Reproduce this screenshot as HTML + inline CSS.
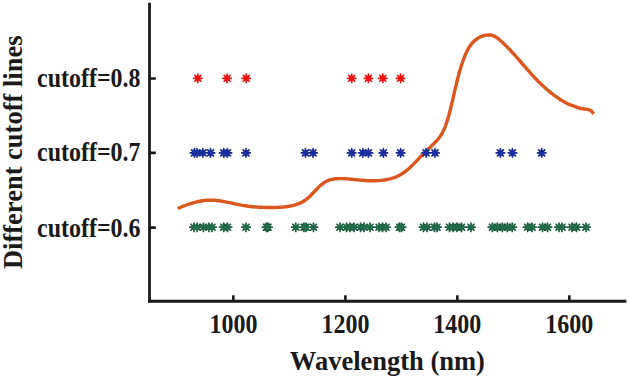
<!DOCTYPE html>
<html><head><meta charset="utf-8"><style>
html,body{margin:0;padding:0;background:#fff;}
svg{display:block;}
text{font-family:"Liberation Serif",serif;font-weight:bold;fill:#1a1a1a;}
</style></head><body>
<svg width="629" height="377" viewBox="0 0 629 377">
<rect width="629" height="377" fill="#fff"/>
<path d="M177.7,208.5 L178.9,208.0 L180.2,207.5 L181.4,206.9 L182.7,206.4 L184.0,205.9 L185.2,205.5 L186.5,205.0 L187.8,204.5 L189.1,204.1 L190.4,203.7 L191.7,203.3 L193.1,202.9 L194.4,202.5 L195.7,202.2 L197.0,201.8 L198.4,201.5 L199.7,201.3 L201.0,201.0 L202.4,200.8 L203.7,200.6 L205.1,200.5 L206.4,200.3 L207.8,200.3 L209.1,200.2 L210.5,200.2 L211.8,200.2 L213.2,200.2 L214.5,200.3 L215.9,200.4 L217.2,200.6 L218.6,200.7 L219.9,200.9 L221.2,201.1 L222.6,201.3 L223.9,201.6 L225.3,201.8 L226.6,202.1 L228.0,202.4 L229.3,202.6 L230.7,202.9 L232.0,203.2 L233.4,203.5 L234.7,203.8 L236.0,204.1 L237.4,204.4 L238.7,204.6 L240.1,204.9 L241.4,205.1 L242.7,205.4 L244.1,205.6 L245.4,205.8 L246.8,206.0 L248.1,206.2 L249.4,206.4 L250.8,206.5 L252.1,206.7 L253.4,206.8 L254.8,206.9 L256.1,207.0 L257.5,207.1 L258.8,207.2 L260.2,207.3 L261.5,207.3 L262.9,207.4 L264.2,207.4 L265.6,207.5 L266.9,207.5 L268.3,207.5 L269.7,207.5 L271.1,207.5 L272.4,207.5 L273.8,207.5 L275.2,207.5 L276.6,207.4 L278.0,207.4 L279.4,207.3 L280.7,207.2 L282.1,207.1 L283.5,207.0 L284.9,206.9 L286.2,206.7 L287.6,206.5 L289.0,206.3 L290.3,206.0 L291.6,205.8 L292.9,205.5 L294.2,205.1 L295.5,204.8 L296.8,204.3 L298.0,203.9 L299.3,203.4 L300.5,202.9 L301.6,202.3 L302.8,201.7 L303.9,201.0 L305.0,200.3 L306.1,199.5 L307.2,198.7 L308.2,197.8 L309.2,196.9 L310.2,196.0 L311.2,195.0 L312.1,194.0 L313.1,193.0 L314.0,192.0 L315.0,191.0 L315.9,190.0 L316.9,189.0 L317.8,188.0 L318.8,187.1 L319.8,186.1 L320.8,185.2 L321.8,184.4 L322.9,183.6 L323.9,182.8 L325.0,182.1 L326.2,181.4 L327.4,180.9 L328.6,180.4 L329.8,179.9 L331.1,179.6 L332.4,179.3 L333.8,179.0 L335.2,178.8 L336.6,178.7 L338.0,178.6 L339.4,178.6 L340.8,178.6 L342.3,178.6 L343.7,178.6 L345.1,178.7 L346.6,178.8 L348.0,178.9 L349.4,179.1 L350.8,179.2 L352.2,179.3 L353.5,179.5 L354.9,179.6 L356.2,179.7 L357.5,179.9 L358.8,180.0 L360.2,180.1 L361.5,180.2 L362.8,180.3 L364.1,180.4 L365.4,180.5 L366.8,180.6 L368.1,180.7 L369.4,180.7 L370.8,180.7 L372.2,180.8 L373.5,180.8 L374.9,180.7 L376.3,180.7 L377.6,180.6 L379.0,180.6 L380.4,180.4 L381.7,180.3 L383.1,180.1 L384.5,180.0 L385.8,179.7 L387.1,179.5 L388.5,179.2 L389.8,178.9 L391.1,178.6 L392.4,178.2 L393.7,177.8 L394.9,177.3 L396.2,176.8 L397.4,176.3 L398.6,175.7 L399.8,175.1 L400.9,174.5 L402.0,173.8 L403.2,173.0 L404.3,172.3 L405.3,171.5 L406.4,170.6 L407.5,169.8 L408.5,168.9 L409.5,168.0 L410.5,167.0 L411.5,166.1 L412.5,165.1 L413.5,164.1 L414.5,163.1 L415.4,162.1 L416.4,161.1 L417.3,160.1 L418.3,159.1 L419.3,158.1 L420.2,157.0 L421.2,156.0 L422.1,155.0 L423.1,154.0 L424.1,153.0 L425.1,152.1 L426.0,151.1 L427.0,150.2 L428.0,149.2 L429.0,148.3 L430.0,147.4 L431.0,146.5 L431.9,145.5 L432.9,144.6 L433.8,143.7 L434.8,142.7 L435.7,141.7 L436.6,140.8 L437.5,139.8 L438.3,138.8 L439.1,137.7 L439.9,136.7 L440.7,135.6 L441.4,134.5 L442.1,133.3 L442.7,132.1 L443.3,130.9 L443.9,129.7 L444.5,128.4 L445.0,127.2 L445.5,125.9 L446.0,124.5 L446.4,123.2 L446.9,121.9 L447.3,120.5 L447.7,119.2 L448.1,117.8 L448.5,116.5 L448.9,115.2 L449.2,113.8 L449.6,112.5 L449.9,111.2 L450.3,109.8 L450.6,108.5 L450.9,107.2 L451.3,105.8 L451.6,104.5 L451.9,103.2 L452.2,101.9 L452.5,100.6 L452.8,99.3 L453.1,97.9 L453.4,96.6 L453.7,95.3 L454.0,94.0 L454.3,92.7 L454.6,91.4 L454.9,90.1 L455.2,88.8 L455.5,87.5 L455.9,86.2 L456.2,84.9 L456.5,83.5 L456.8,82.2 L457.1,80.9 L457.4,79.6 L457.8,78.3 L458.1,77.0 L458.5,75.7 L458.8,74.4 L459.2,73.1 L459.5,71.8 L459.9,70.5 L460.3,69.2 L460.7,67.9 L461.1,66.6 L461.5,65.3 L461.9,64.0 L462.4,62.6 L462.8,61.3 L463.3,60.0 L463.8,58.7 L464.3,57.4 L464.8,56.1 L465.3,54.8 L465.9,53.5 L466.5,52.3 L467.1,51.0 L467.7,49.8 L468.4,48.6 L469.0,47.5 L469.8,46.3 L470.5,45.2 L471.3,44.2 L472.2,43.2 L473.1,42.2 L474.0,41.3 L474.9,40.4 L476.0,39.6 L477.0,38.8 L478.1,38.1 L479.3,37.4 L480.5,36.8 L481.8,36.3 L483.1,35.9 L484.5,35.5 L485.9,35.2 L487.3,35.1 L488.8,35.0 L490.2,35.0 L491.5,35.2 L492.8,35.6 L494.1,36.1 L495.3,36.7 L496.4,37.4 L497.5,38.2 L498.6,39.0 L499.6,39.9 L500.6,40.8 L501.6,41.7 L502.6,42.6 L503.6,43.5 L504.6,44.5 L505.6,45.4 L506.6,46.4 L507.5,47.3 L508.5,48.3 L509.4,49.3 L510.4,50.3 L511.3,51.3 L512.2,52.3 L513.1,53.3 L514.0,54.3 L515.0,55.3 L515.9,56.3 L516.8,57.3 L517.7,58.3 L518.6,59.4 L519.5,60.4 L520.3,61.4 L521.2,62.5 L522.1,63.5 L523.0,64.5 L523.9,65.6 L524.8,66.6 L525.7,67.6 L526.6,68.6 L527.5,69.7 L528.4,70.7 L529.3,71.7 L530.2,72.7 L531.1,73.7 L532.0,74.8 L532.9,75.8 L533.9,76.8 L534.8,77.8 L535.7,78.7 L536.7,79.7 L537.6,80.7 L538.6,81.7 L539.6,82.6 L540.5,83.6 L541.5,84.5 L542.5,85.4 L543.5,86.4 L544.5,87.3 L545.5,88.2 L546.5,89.1 L547.5,90.0 L548.6,90.9 L549.6,91.7 L550.7,92.6 L551.7,93.4 L552.8,94.2 L553.9,95.1 L555.0,95.9 L556.1,96.7 L557.2,97.4 L558.3,98.2 L559.4,99.0 L560.6,99.7 L561.7,100.4 L562.9,101.1 L564.1,101.8 L565.3,102.5 L566.5,103.1 L567.7,103.8 L568.9,104.4 L569.3,104.5 L569.9,104.7 L570.5,104.9 L571.2,105.1 L572.0,105.4 L572.7,105.6 L573.4,105.9 L574.0,106.1 L574.6,106.3 L575.1,106.5 L575.6,106.7 L576.1,106.9 L576.6,107.2 L577.0,107.3 L577.5,107.5 L578.0,107.7 L578.5,107.9 L579.0,108.0 L579.5,108.1 L580.0,108.3 L580.4,108.4 L580.9,108.5 L581.4,108.6 L581.9,108.7 L582.4,108.8 L582.9,108.9 L583.4,108.9 L583.9,109.0 L584.4,109.0 L584.9,109.1 L585.4,109.1 L585.9,109.2 L586.4,109.3 L586.9,109.4 L587.5,109.5 L588.0,109.6 L588.5,109.7 L589.0,109.8 L589.5,110.0 L589.9,110.1 L590.2,110.3 L590.5,110.4 L590.8,110.6 L591.0,110.8 L591.2,111.0 L591.4,111.3 L591.7,111.5 L591.9,111.7 L592.2,111.9 L592.4,112.2 L592.7,112.5 L593.0,112.8 L593.3,113.1 L593.5,113.3 L593.7,113.5 L593.9,113.7" fill="none" stroke="#db571e" stroke-width="3.4" stroke-linejoin="round"/>
<path d="M193.60,78.30L202.00,78.30M194.83,75.33L200.77,81.27M197.80,74.10L197.80,82.50M200.77,75.33L194.83,81.27M222.90,78.30L231.30,78.30M224.13,75.33L230.07,81.27M227.10,74.10L227.10,82.50M230.07,75.33L224.13,81.27M242.00,78.30L250.40,78.30M243.23,75.33L249.17,81.27M246.20,74.10L246.20,82.50M249.17,75.33L243.23,81.27M347.50,78.30L355.90,78.30M348.73,75.33L354.67,81.27M351.70,74.10L351.70,82.50M354.67,75.33L348.73,81.27M364.20,78.30L372.60,78.30M365.43,75.33L371.37,81.27M368.40,74.10L368.40,82.50M371.37,75.33L365.43,81.27M378.60,78.30L387.00,78.30M379.83,75.33L385.77,81.27M382.80,74.10L382.80,82.50M385.77,75.33L379.83,81.27M396.40,78.30L404.80,78.30M397.63,75.33L403.57,81.27M400.60,74.10L400.60,82.50M403.57,75.33L397.63,81.27" stroke="#e01515" stroke-width="1.7" stroke-linecap="round"/><circle cx="197.80" cy="78.30" r="2.8" fill="#f51010"/><circle cx="227.10" cy="78.30" r="2.8" fill="#f51010"/><circle cx="246.20" cy="78.30" r="2.8" fill="#f51010"/><circle cx="351.70" cy="78.30" r="2.8" fill="#f51010"/><circle cx="368.40" cy="78.30" r="2.8" fill="#f51010"/><circle cx="382.80" cy="78.30" r="2.8" fill="#f51010"/><circle cx="400.60" cy="78.30" r="2.8" fill="#f51010"/>
<path d="M190.30,152.90L198.70,152.90M191.53,149.93L197.47,155.87M194.50,148.70L194.50,157.10M197.47,149.93L191.53,155.87M192.80,152.90L201.20,152.90M194.03,149.93L199.97,155.87M197.00,148.70L197.00,157.10M199.97,149.93L194.03,155.87M198.60,152.90L207.00,152.90M199.83,149.93L205.77,155.87M202.80,148.70L202.80,157.10M205.77,149.93L199.83,155.87M206.30,152.90L214.70,152.90M207.53,149.93L213.47,155.87M210.50,148.70L210.50,157.10M213.47,149.93L207.53,155.87M219.50,152.90L227.90,152.90M220.73,149.93L226.67,155.87M223.70,148.70L223.70,157.10M226.67,149.93L220.73,155.87M223.30,152.90L231.70,152.90M224.53,149.93L230.47,155.87M227.50,148.70L227.50,157.10M230.47,149.93L224.53,155.87M241.80,152.90L250.20,152.90M243.03,149.93L248.97,155.87M246.00,148.70L246.00,157.10M248.97,149.93L243.03,155.87M301.30,152.90L309.70,152.90M302.53,149.93L308.47,155.87M305.50,148.70L305.50,157.10M308.47,149.93L302.53,155.87M308.80,152.90L317.20,152.90M310.03,149.93L315.97,155.87M313.00,148.70L313.00,157.10M315.97,149.93L310.03,155.87M347.50,152.90L355.90,152.90M348.73,149.93L354.67,155.87M351.70,148.70L351.70,157.10M354.67,149.93L348.73,155.87M358.60,152.90L367.00,152.90M359.83,149.93L365.77,155.87M362.80,148.70L362.80,157.10M365.77,149.93L359.83,155.87M364.20,152.90L372.60,152.90M365.43,149.93L371.37,155.87M368.40,148.70L368.40,157.10M371.37,149.93L365.43,155.87M379.20,152.90L387.60,152.90M380.43,149.93L386.37,155.87M383.40,148.70L383.40,157.10M386.37,149.93L380.43,155.87M396.40,152.90L404.80,152.90M397.63,149.93L403.57,155.87M400.60,148.70L400.60,157.10M403.57,149.93L397.63,155.87M421.90,152.90L430.30,152.90M423.13,149.93L429.07,155.87M426.10,148.70L426.10,157.10M429.07,149.93L423.13,155.87M430.80,152.90L439.20,152.90M432.03,149.93L437.97,155.87M435.00,148.70L435.00,157.10M437.97,149.93L432.03,155.87M496.20,152.90L504.60,152.90M497.43,149.93L503.37,155.87M500.40,148.70L500.40,157.10M503.37,149.93L497.43,155.87M508.20,152.90L516.60,152.90M509.43,149.93L515.37,155.87M512.40,148.70L512.40,157.10M515.37,149.93L509.43,155.87M537.50,152.90L545.90,152.90M538.73,149.93L544.67,155.87M541.70,148.70L541.70,157.10M544.67,149.93L538.73,155.87" stroke="#152788" stroke-width="1.7" stroke-linecap="round"/><circle cx="194.50" cy="152.90" r="2.8" fill="#1a2ea0"/><circle cx="197.00" cy="152.90" r="2.8" fill="#1a2ea0"/><circle cx="202.80" cy="152.90" r="2.8" fill="#1a2ea0"/><circle cx="210.50" cy="152.90" r="2.8" fill="#1a2ea0"/><circle cx="223.70" cy="152.90" r="2.8" fill="#1a2ea0"/><circle cx="227.50" cy="152.90" r="2.8" fill="#1a2ea0"/><circle cx="246.00" cy="152.90" r="2.8" fill="#1a2ea0"/><circle cx="305.50" cy="152.90" r="2.8" fill="#1a2ea0"/><circle cx="313.00" cy="152.90" r="2.8" fill="#1a2ea0"/><circle cx="351.70" cy="152.90" r="2.8" fill="#1a2ea0"/><circle cx="362.80" cy="152.90" r="2.8" fill="#1a2ea0"/><circle cx="368.40" cy="152.90" r="2.8" fill="#1a2ea0"/><circle cx="383.40" cy="152.90" r="2.8" fill="#1a2ea0"/><circle cx="400.60" cy="152.90" r="2.8" fill="#1a2ea0"/><circle cx="426.10" cy="152.90" r="2.8" fill="#1a2ea0"/><circle cx="435.00" cy="152.90" r="2.8" fill="#1a2ea0"/><circle cx="500.40" cy="152.90" r="2.8" fill="#1a2ea0"/><circle cx="512.40" cy="152.90" r="2.8" fill="#1a2ea0"/><circle cx="541.70" cy="152.90" r="2.8" fill="#1a2ea0"/>
<path d="M189.80,227.20L198.20,227.20M191.03,224.23L196.97,230.17M194.00,223.00L194.00,231.40M196.97,224.23L191.03,230.17M192.80,227.20L201.20,227.20M194.03,224.23L199.97,230.17M197.00,223.00L197.00,231.40M199.97,224.23L194.03,230.17M199.20,227.20L207.60,227.20M200.43,224.23L206.37,230.17M203.40,223.00L203.40,231.40M206.37,224.23L200.43,230.17M204.80,227.20L213.20,227.20M206.03,224.23L211.97,230.17M209.00,223.00L209.00,231.40M211.97,224.23L206.03,230.17M207.80,227.20L216.20,227.20M209.03,224.23L214.97,230.17M212.00,223.00L212.00,231.40M214.97,224.23L209.03,230.17M219.50,227.20L227.90,227.20M220.73,224.23L226.67,230.17M223.70,223.00L223.70,231.40M226.67,224.23L220.73,230.17M223.30,227.20L231.70,227.20M224.53,224.23L230.47,230.17M227.50,223.00L227.50,231.40M230.47,224.23L224.53,230.17M241.80,227.20L250.20,227.20M243.03,224.23L248.97,230.17M246.00,223.00L246.00,231.40M248.97,224.23L243.03,230.17M262.30,227.20L270.70,227.20M263.53,224.23L269.47,230.17M266.50,223.00L266.50,231.40M269.47,224.23L263.53,230.17M263.80,227.20L272.20,227.20M265.03,224.23L270.97,230.17M268.00,223.00L268.00,231.40M270.97,224.23L265.03,230.17M291.60,227.20L300.00,227.20M292.83,224.23L298.77,230.17M295.80,223.00L295.80,231.40M298.77,224.23L292.83,230.17M299.80,227.20L308.20,227.20M301.03,224.23L306.97,230.17M304.00,223.00L304.00,231.40M306.97,224.23L301.03,230.17M301.80,227.20L310.20,227.20M303.03,224.23L308.97,230.17M306.00,223.00L306.00,231.40M308.97,224.23L303.03,230.17M309.30,227.20L317.70,227.20M310.53,224.23L316.47,230.17M313.50,223.00L313.50,231.40M316.47,224.23L310.53,230.17M335.80,227.20L344.20,227.20M337.03,224.23L342.97,230.17M340.00,223.00L340.00,231.40M342.97,224.23L337.03,230.17M342.30,227.20L350.70,227.20M343.53,224.23L349.47,230.17M346.50,223.00L346.50,231.40M349.47,224.23L343.53,230.17M345.80,227.20L354.20,227.20M347.03,224.23L352.97,230.17M350.00,223.00L350.00,231.40M352.97,224.23L347.03,230.17M349.80,227.20L358.20,227.20M351.03,224.23L356.97,230.17M354.00,223.00L354.00,231.40M356.97,224.23L351.03,230.17M356.30,227.20L364.70,227.20M357.53,224.23L363.47,230.17M360.50,223.00L360.50,231.40M363.47,224.23L357.53,230.17M359.80,227.20L368.20,227.20M361.03,224.23L366.97,230.17M364.00,223.00L364.00,231.40M366.97,224.23L361.03,230.17M365.80,227.20L374.20,227.20M367.03,224.23L372.97,230.17M370.00,223.00L370.00,231.40M372.97,224.23L367.03,230.17M374.80,227.20L383.20,227.20M376.03,224.23L381.97,230.17M379.00,223.00L379.00,231.40M381.97,224.23L376.03,230.17M378.30,227.20L386.70,227.20M379.53,224.23L385.47,230.17M382.50,223.00L382.50,231.40M385.47,224.23L379.53,230.17M381.80,227.20L390.20,227.20M383.03,224.23L388.97,230.17M386.00,223.00L386.00,231.40M388.97,224.23L383.03,230.17M395.30,227.20L403.70,227.20M396.53,224.23L402.47,230.17M399.50,223.00L399.50,231.40M402.47,224.23L396.53,230.17M397.30,227.20L405.70,227.20M398.53,224.23L404.47,230.17M401.50,223.00L401.50,231.40M404.47,224.23L398.53,230.17M419.30,227.20L427.70,227.20M420.53,224.23L426.47,230.17M423.50,223.00L423.50,231.40M426.47,224.23L420.53,230.17M422.80,227.20L431.20,227.20M424.03,224.23L429.97,230.17M427.00,223.00L427.00,231.40M429.97,224.23L424.03,230.17M430.30,227.20L438.70,227.20M431.53,224.23L437.47,230.17M434.50,223.00L434.50,231.40M437.47,224.23L431.53,230.17M432.80,227.20L441.20,227.20M434.03,224.23L439.97,230.17M437.00,223.00L437.00,231.40M439.97,224.23L434.03,230.17M445.30,227.20L453.70,227.20M446.53,224.23L452.47,230.17M449.50,223.00L449.50,231.40M452.47,224.23L446.53,230.17M448.80,227.20L457.20,227.20M450.03,224.23L455.97,230.17M453.00,223.00L453.00,231.40M455.97,224.23L450.03,230.17M452.80,227.20L461.20,227.20M454.03,224.23L459.97,230.17M457.00,223.00L457.00,231.40M459.97,224.23L454.03,230.17M457.30,227.20L465.70,227.20M458.53,224.23L464.47,230.17M461.50,223.00L461.50,231.40M464.47,224.23L458.53,230.17M466.80,227.20L475.20,227.20M468.03,224.23L473.97,230.17M471.00,223.00L471.00,231.40M473.97,224.23L468.03,230.17M488.20,227.20L496.60,227.20M489.43,224.23L495.37,230.17M492.40,223.00L492.40,231.40M495.37,224.23L489.43,230.17M493.10,227.20L501.50,227.20M494.33,224.23L500.27,230.17M497.30,223.00L497.30,231.40M500.27,224.23L494.33,230.17M498.10,227.20L506.50,227.20M499.33,224.23L505.27,230.17M502.30,223.00L502.30,231.40M505.27,224.23L499.33,230.17M503.10,227.20L511.50,227.20M504.33,224.23L510.27,230.17M507.30,223.00L507.30,231.40M510.27,224.23L504.33,230.17M508.00,227.20L516.40,227.20M509.23,224.23L515.17,230.17M512.20,223.00L512.20,231.40M515.17,224.23L509.23,230.17M523.40,227.20L531.80,227.20M524.63,224.23L530.57,230.17M527.60,223.00L527.60,231.40M530.57,224.23L524.63,230.17M527.80,227.20L536.20,227.20M529.03,224.23L534.97,230.17M532.00,223.00L532.00,231.40M534.97,224.23L529.03,230.17M538.30,227.20L546.70,227.20M539.53,224.23L545.47,230.17M542.50,223.00L542.50,231.40M545.47,224.23L539.53,230.17M543.30,227.20L551.70,227.20M544.53,224.23L550.47,230.17M547.50,223.00L547.50,231.40M550.47,224.23L544.53,230.17M554.80,227.20L563.20,227.20M556.03,224.23L561.97,230.17M559.00,223.00L559.00,231.40M561.97,224.23L556.03,230.17M557.80,227.20L566.20,227.20M559.03,224.23L564.97,230.17M562.00,223.00L562.00,231.40M564.97,224.23L559.03,230.17M567.80,227.20L576.20,227.20M569.03,224.23L574.97,230.17M572.00,223.00L572.00,231.40M574.97,224.23L569.03,230.17M572.30,227.20L580.70,227.20M573.53,224.23L579.47,230.17M576.50,223.00L576.50,231.40M579.47,224.23L573.53,230.17M581.80,227.20L590.20,227.20M583.03,224.23L588.97,230.17M586.00,223.00L586.00,231.40M588.97,224.23L583.03,230.17" stroke="#1a5a3c" stroke-width="1.7" stroke-linecap="round"/><circle cx="194.00" cy="227.20" r="2.8" fill="#216b47"/><circle cx="197.00" cy="227.20" r="2.8" fill="#216b47"/><circle cx="203.40" cy="227.20" r="2.8" fill="#216b47"/><circle cx="209.00" cy="227.20" r="2.8" fill="#216b47"/><circle cx="212.00" cy="227.20" r="2.8" fill="#216b47"/><circle cx="223.70" cy="227.20" r="2.8" fill="#216b47"/><circle cx="227.50" cy="227.20" r="2.8" fill="#216b47"/><circle cx="246.00" cy="227.20" r="2.8" fill="#216b47"/><circle cx="266.50" cy="227.20" r="2.8" fill="#216b47"/><circle cx="268.00" cy="227.20" r="2.8" fill="#216b47"/><circle cx="295.80" cy="227.20" r="2.8" fill="#216b47"/><circle cx="304.00" cy="227.20" r="2.8" fill="#216b47"/><circle cx="306.00" cy="227.20" r="2.8" fill="#216b47"/><circle cx="313.50" cy="227.20" r="2.8" fill="#216b47"/><circle cx="340.00" cy="227.20" r="2.8" fill="#216b47"/><circle cx="346.50" cy="227.20" r="2.8" fill="#216b47"/><circle cx="350.00" cy="227.20" r="2.8" fill="#216b47"/><circle cx="354.00" cy="227.20" r="2.8" fill="#216b47"/><circle cx="360.50" cy="227.20" r="2.8" fill="#216b47"/><circle cx="364.00" cy="227.20" r="2.8" fill="#216b47"/><circle cx="370.00" cy="227.20" r="2.8" fill="#216b47"/><circle cx="379.00" cy="227.20" r="2.8" fill="#216b47"/><circle cx="382.50" cy="227.20" r="2.8" fill="#216b47"/><circle cx="386.00" cy="227.20" r="2.8" fill="#216b47"/><circle cx="399.50" cy="227.20" r="2.8" fill="#216b47"/><circle cx="401.50" cy="227.20" r="2.8" fill="#216b47"/><circle cx="423.50" cy="227.20" r="2.8" fill="#216b47"/><circle cx="427.00" cy="227.20" r="2.8" fill="#216b47"/><circle cx="434.50" cy="227.20" r="2.8" fill="#216b47"/><circle cx="437.00" cy="227.20" r="2.8" fill="#216b47"/><circle cx="449.50" cy="227.20" r="2.8" fill="#216b47"/><circle cx="453.00" cy="227.20" r="2.8" fill="#216b47"/><circle cx="457.00" cy="227.20" r="2.8" fill="#216b47"/><circle cx="461.50" cy="227.20" r="2.8" fill="#216b47"/><circle cx="471.00" cy="227.20" r="2.8" fill="#216b47"/><circle cx="492.40" cy="227.20" r="2.8" fill="#216b47"/><circle cx="497.30" cy="227.20" r="2.8" fill="#216b47"/><circle cx="502.30" cy="227.20" r="2.8" fill="#216b47"/><circle cx="507.30" cy="227.20" r="2.8" fill="#216b47"/><circle cx="512.20" cy="227.20" r="2.8" fill="#216b47"/><circle cx="527.60" cy="227.20" r="2.8" fill="#216b47"/><circle cx="532.00" cy="227.20" r="2.8" fill="#216b47"/><circle cx="542.50" cy="227.20" r="2.8" fill="#216b47"/><circle cx="547.50" cy="227.20" r="2.8" fill="#216b47"/><circle cx="559.00" cy="227.20" r="2.8" fill="#216b47"/><circle cx="562.00" cy="227.20" r="2.8" fill="#216b47"/><circle cx="572.00" cy="227.20" r="2.8" fill="#216b47"/><circle cx="576.50" cy="227.20" r="2.8" fill="#216b47"/><circle cx="586.00" cy="227.20" r="2.8" fill="#216b47"/>
<g stroke="#1a1a1a" fill="none">
<path d="M149.5,2.7V302.5" stroke-width="2.8"/>
<path d="M148.1,301.2H626.4" stroke-width="3"/>
<path d="M149.5,78.5H155.8M149.5,152.9H155.8M149.5,227.6H155.8" stroke-width="2.6"/>
<path d="M233.3,301H233.3V295.3M345.4,301V295.3M457.3,301V295.3M569.3,301V295.3" stroke-width="2.6"/>
</g>
<g font-size="24" text-anchor="end">
<text transform="translate(140.6,87.2) scale(1,1.12)">cutoff=0.8</text>
<text transform="translate(140.6,161.4) scale(1,1.12)">cutoff=0.7</text>
<text transform="translate(140.6,236.6) scale(1,1.12)">cutoff=0.6</text>
</g>
<g font-size="24" text-anchor="middle">
<text transform="translate(233.5,332.8) scale(1,1.12)">1000</text>
<text transform="translate(345.4,332.8) scale(1,1.12)">1200</text>
<text transform="translate(457.3,332.8) scale(1,1.12)">1400</text>
<text transform="translate(569.3,332.8) scale(1,1.12)">1600</text>
</g>
<text x="387.4" y="369.9" font-size="26.5" text-anchor="middle">Wavelength (nm)</text>
<text transform="translate(21.5,152.3) rotate(-90)" font-size="26.5" text-anchor="middle">Different cutoff lines</text>
</svg>
</body></html>
